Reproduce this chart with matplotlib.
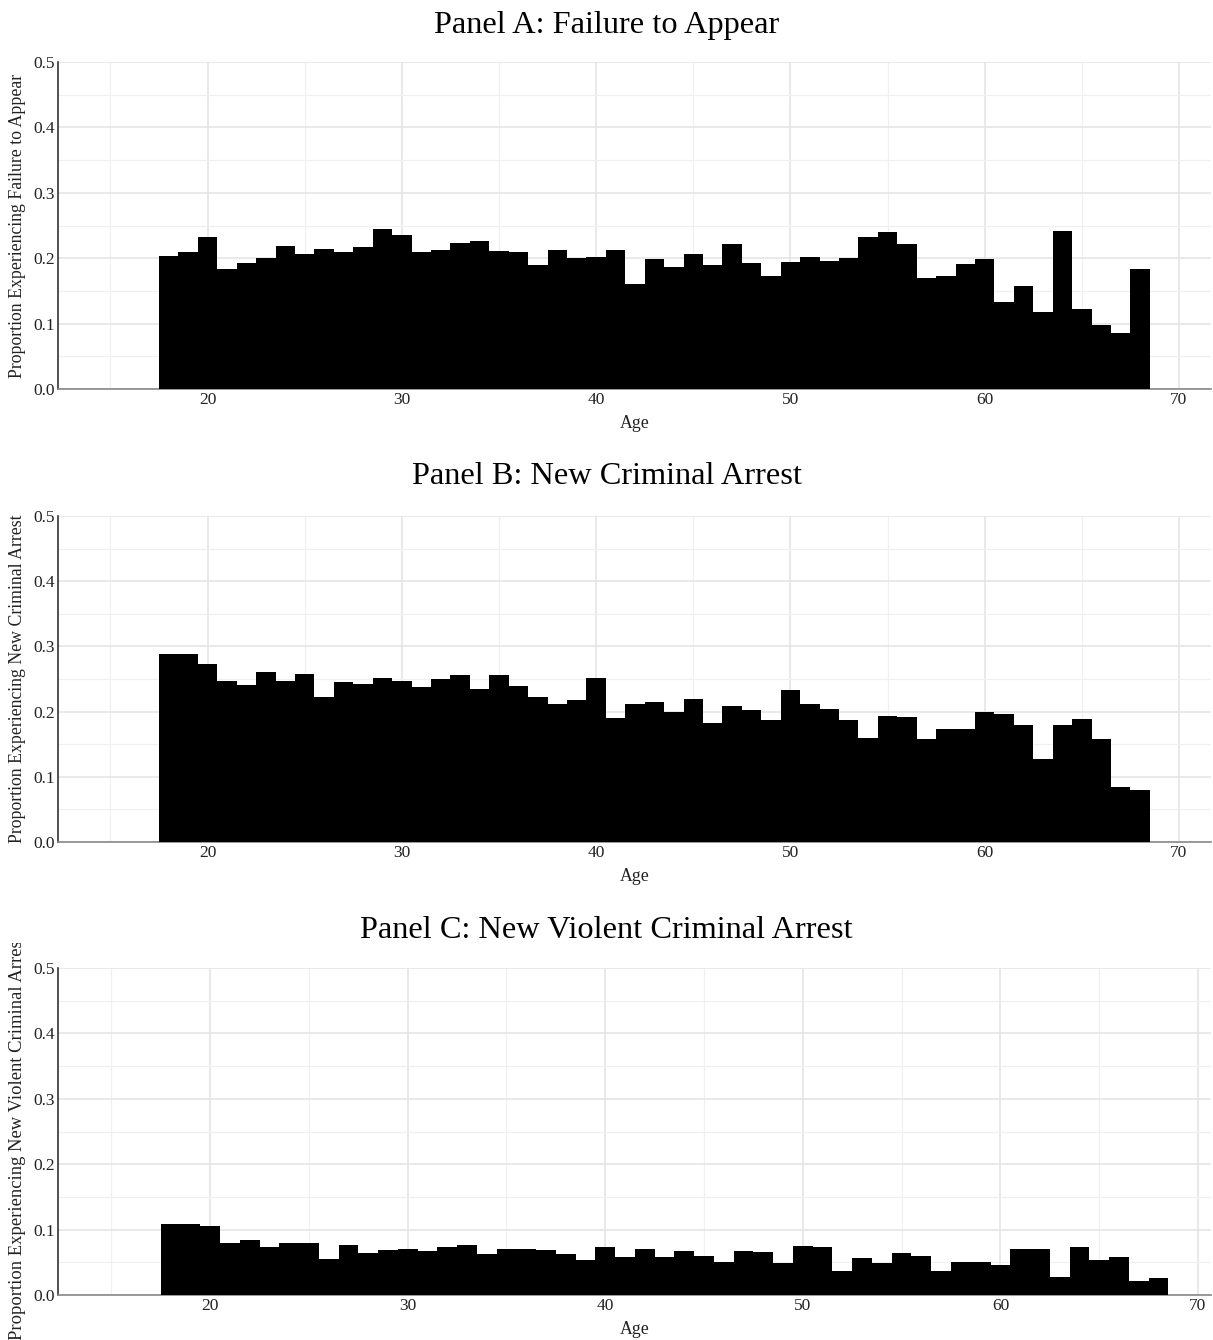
import matplotlib
matplotlib.use("Agg")
import matplotlib.pyplot as plt
import numpy as np
from matplotlib.transforms import Bbox

ages = np.arange(18, 69)

fta = [0.203, 0.210, 0.232, 0.183, 0.193, 0.200, 0.219, 0.206, 0.214, 0.210,
       0.217, 0.244, 0.235, 0.209, 0.212, 0.224, 0.227, 0.211, 0.210, 0.189,
       0.213, 0.201, 0.202, 0.212, 0.161, 0.199, 0.186, 0.207, 0.189, 0.222,
       0.192, 0.173, 0.194, 0.202, 0.195, 0.201, 0.233, 0.240, 0.221, 0.170,
       0.173, 0.191, 0.199, 0.133, 0.157, 0.117, 0.241, 0.122, 0.098, 0.085,
       0.184]

nca = [0.288, 0.289, 0.273, 0.247, 0.241, 0.261, 0.247, 0.257, 0.223, 0.245,
       0.243, 0.251, 0.247, 0.237, 0.250, 0.256, 0.235, 0.256, 0.239, 0.223,
       0.212, 0.218, 0.252, 0.190, 0.211, 0.214, 0.199, 0.219, 0.183, 0.208,
       0.203, 0.187, 0.233, 0.211, 0.204, 0.187, 0.160, 0.193, 0.191, 0.158,
       0.173, 0.174, 0.200, 0.196, 0.180, 0.127, 0.180, 0.189, 0.158, 0.085,
       0.079]

nvca = [0.108, 0.109, 0.105, 0.079, 0.084, 0.073, 0.080, 0.080, 0.055, 0.077,
        0.064, 0.069, 0.071, 0.067, 0.073, 0.077, 0.062, 0.071, 0.071, 0.069,
        0.063, 0.054, 0.074, 0.058, 0.070, 0.058, 0.068, 0.060, 0.050, 0.068,
        0.065, 0.049, 0.075, 0.074, 0.036, 0.057, 0.049, 0.064, 0.060, 0.037,
        0.051, 0.051, 0.046, 0.071, 0.071, 0.027, 0.073, 0.054, 0.058, 0.021,
        0.026]

titles = ["Panel A: Failure to Appear",
          "Panel B: New Criminal Arrest",
          "Panel C: New Violent Criminal Arrest"]
ylabels = ["Proportion Experiencing Failure to Appear",
           "Proportion Experiencing New Criminal Arrest",
           "Proportion Experiencing New Violent Criminal Arrest"]
series = [fta, nca, nvca]

plt.rcParams['font.family'] = ['Liberation Serif', 'DejaVu Serif']

W, H = 1213, 1340
fig = plt.figure(figsize=(W / 100, H / 100), dpi=100)

# axes boxes in pixels: (top, bottom)
boxes = [(62, 389), (516, 842), (968, 1295)]
title_y = [25, 477, 930]
xlims = [(12.3, 71.65), (12.3, 71.65), (12.3, 70.66)]
left, right = 58, 1211

for i in range(3):
    top, bot = boxes[i]
    ax = fig.add_axes([left / W, 1 - bot / H, (right - left) / W, (bot - top) / H])
    ax.bar(ages, series[i], width=1.0, color='black', edgecolor='black',
           linewidth=0, zorder=3)
    ax.set_xlim(*xlims[i])
    ax.set_ylim(0, 0.5)
    ax.set_xticks([20, 30, 40, 50, 60, 70])
    ax.set_xticks([15, 25, 35, 45, 55, 65], minor=True)
    ax.set_yticks([0.0, 0.1, 0.2, 0.3, 0.4, 0.5])
    ax.set_yticks([0.05, 0.15, 0.25, 0.35, 0.45], minor=True)
    ax.set_yticklabels(["%.1f" % v for v in [0.0, 0.1, 0.2, 0.3, 0.4, 0.5]])
    ax.grid(which='major', color='#e3e3e3', linewidth=1.1, zorder=0)
    ax.grid(which='minor', color='#f0f0f0', linewidth=0.9, zorder=0)
    ax.tick_params(which='both', length=0, labelsize=12.5, colors='#222222')
    ax.tick_params(axis='y', pad=2)
    ax.tick_params(axis='x', pad=2)
    for s in ['top', 'right']:
        ax.spines[s].set_visible(False)
    ax.spines['left'].set_color('#333333')
    ax.spines['left'].set_linewidth(1.2)
    ax.spines['bottom'].set_color('#888888')
    ax.spines['bottom'].set_linewidth(1.2)
    ax.set_axisbelow(True)
    ax.set_xlabel("Age", fontsize=12.8, labelpad=5, color='#222222')
    if i < 2:
        yl = ax.set_ylabel(ylabels[i], fontsize=12.8, color='#222222')
        ax.yaxis.set_label_coords(-32 / (right - left), 0.5)
    else:
        # longer label, runs past the panel and is cut off at the top
        yl = ax.set_ylabel(ylabels[i], fontsize=13.4, color='#222222')
        ax.yaxis.set_label_coords(-32 / (right - left), (bot - 1138) / (bot - top))
        yl.set_clip_box(Bbox([[0, 0], [W, H - 943]]))
        yl.set_clip_on(True)
    fig.text(0.5, 1 - title_y[i] / H, titles[i], ha='center', va='center',
             fontsize=23.3, color='black')

fig.savefig("out.png", dpi=100)
